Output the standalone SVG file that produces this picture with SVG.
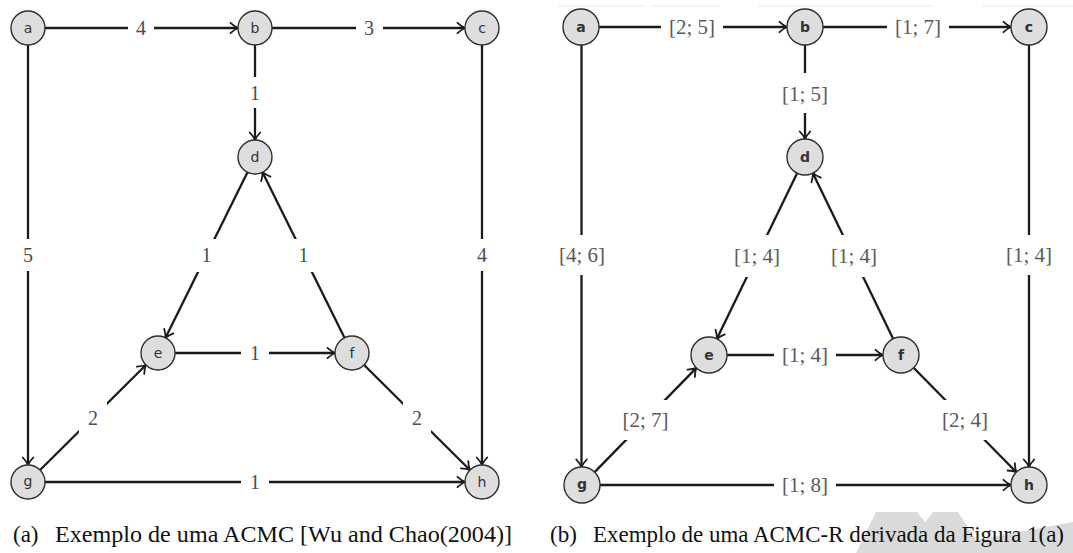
<svg xmlns="http://www.w3.org/2000/svg" width="1073" height="553" viewBox="0 0 1073 553">
<style>
.edge{stroke:#1a1a1a;stroke-width:2.3;fill:none;marker-end:url(#arr)}
.node circle{fill:#dedede;stroke:#2e2e2e;stroke-width:1.4}
.na{font-family:"DejaVu Sans",sans-serif;font-size:14px;fill:#333;text-anchor:middle}
.nb{font-family:"DejaVu Sans",sans-serif;font-size:14px;font-weight:bold;fill:#333;text-anchor:middle}
.lbl{font-family:"Liberation Serif",serif;font-size:20px;fill:#4d4d4d;text-anchor:middle}
.lbr{font-family:"Liberation Serif",serif;font-size:21px;fill:#5a5a5a;text-anchor:middle}
.bg{fill:#fff}
.cap{font-family:"Liberation Serif",serif;font-size:23px;fill:#111}
</style>
<defs>
<marker id="arr" viewBox="-10 -7 12 14" refX="0" refY="0" markerWidth="12" markerHeight="14" orient="auto" markerUnits="userSpaceOnUse">
<path d="M-7.5,-5.2 C-4,-2 -1.5,-0.6 0,0 C-1.5,0.6 -4,2 -7.5,5.2" fill="none" stroke="#1a1a1a" stroke-width="1.8" stroke-linecap="round"/>
</marker>
</defs>
<rect width="1073" height="553" fill="#fff"/>
<g stroke="#e8e8e8" stroke-width="1">
<line x1="558" y1="6" x2="645" y2="6"/>
<line x1="652" y1="6" x2="720" y2="6"/>
<line x1="758" y1="6" x2="932" y2="6"/>
<line x1="982" y1="6" x2="1073" y2="6"/>
</g>
<polygon points="856,553 876,512 917,512 925,522 933,512 958,512 976,540 1073,522 1073,553" fill="#dadada"/>

<g id="connectors">
<g id="e-ab-l"><line class="edge" x1="45" y1="28" x2="238" y2="28"/><rect class="bg" x="128" y="14" width="26" height="30"/><text class="lbl" x="141" y="35">4</text></g>
<g id="e-bc-l"><line class="edge" x1="272" y1="28" x2="465" y2="28"/><rect class="bg" x="356" y="14" width="27" height="30"/><text class="lbl" x="369" y="35">3</text></g>
<g id="e-bd-l"><line class="edge" x1="255" y1="45" x2="255" y2="140"/><rect class="bg" x="243" y="77" width="24" height="31"/><text class="lbl" x="255" y="100">1</text></g>
<g id="e-ag-l"><line class="edge" x1="28" y1="45" x2="28" y2="465"/><rect class="bg" x="16" y="239" width="24" height="32"/><text class="lbl" x="28" y="262">5</text></g>
<g id="e-ch-l"><line class="edge" x1="482" y1="45" x2="482" y2="465"/><rect class="bg" x="470" y="239" width="24" height="32"/><text class="lbl" x="482" y="262">4</text></g>
<g id="e-de-l"><line class="edge" x1="247.5" y1="172.2" x2="165.5" y2="337.8"/><rect class="bg" x="193" y="239" width="27" height="33"/><text class="lbl" x="206.5" y="262">1</text></g>
<g id="e-fd-l"><line class="edge" x1="344.5" y1="337.8" x2="262.5" y2="172.2"/><rect class="bg" x="290" y="239" width="27" height="33"/><text class="lbl" x="303.5" y="262">1</text></g>
<g id="e-ef-l"><line class="edge" x1="175" y1="353" x2="335" y2="353"/><rect class="bg" x="241" y="339" width="28" height="30"/><text class="lbl" x="255" y="360">1</text></g>
<g id="e-ge-l"><line class="edge" x1="40.1" y1="470" x2="145.9" y2="365"/><rect class="bg" x="79" y="402" width="28" height="31"/><text class="lbl" x="93" y="425">2</text></g>
<g id="e-fh-l"><line class="edge" x1="364.1" y1="365" x2="469.9" y2="470"/><rect class="bg" x="403" y="402" width="28" height="31"/><text class="lbl" x="417" y="425">2</text></g>
<g id="e-gh-l"><line class="edge" x1="45" y1="482" x2="465" y2="482"/><rect class="bg" x="241" y="468" width="28" height="30"/><text class="lbl" x="255" y="489">1</text></g>

<g id="e-ab-r"><line class="edge" x1="599" y1="27" x2="787" y2="27"/><rect class="bg" x="661" y="10" width="62" height="34"/><text class="lbr" x="692" y="34">[2; 5]</text></g>
<g id="e-bc-r"><line class="edge" x1="823" y1="27" x2="1011" y2="27"/><rect class="bg" x="887" y="10" width="62" height="34"/><text class="lbr" x="918" y="34">[1; 7]</text></g>
<g id="e-bd-r"><line class="edge" x1="805" y1="45" x2="805" y2="139"/><rect class="bg" x="774" y="73" width="62" height="40"/><text class="lbr" x="805" y="101">[1; 5]</text></g>
<g id="e-ag-r"><line class="edge" x1="581.5" y1="45" x2="581.5" y2="467"/><rect class="bg" x="551" y="235" width="62" height="40"/><text class="lbr" x="582" y="262">[4; 6]</text></g>
<g id="e-ch-r"><line class="edge" x1="1029" y1="45" x2="1029" y2="467"/><rect class="bg" x="998" y="235" width="62" height="40"/><text class="lbr" x="1029" y="262">[1; 4]</text></g>
<g id="e-de-r"><line class="edge" x1="797.1" y1="173.2" x2="716.9" y2="338.8"/><rect class="bg" x="726" y="235" width="62" height="42"/><text class="lbr" x="757" y="263">[1; 4]</text></g>
<g id="e-fd-r"><line class="edge" x1="893.1" y1="338.8" x2="812.9" y2="173.2"/><rect class="bg" x="823" y="235" width="62" height="42"/><text class="lbr" x="854" y="263">[1; 4]</text></g>
<g id="e-ef-r"><line class="edge" x1="727" y1="355" x2="883" y2="355"/><rect class="bg" x="774" y="338" width="62" height="34"/><text class="lbr" x="805" y="362">[1; 4]</text></g>
<g id="e-ge-r"><line class="edge" x1="594.6" y1="472.1" x2="696.4" y2="367.9"/><rect class="bg" x="614" y="400" width="63" height="40"/><text class="lbr" x="645.5" y="427">[2; 7]</text></g>
<g id="e-fh-r"><line class="edge" x1="913.6" y1="367.8" x2="1016.4" y2="472.2"/><rect class="bg" x="934" y="400" width="63" height="40"/><text class="lbr" x="965" y="427">[2; 4]</text></g>
<g id="e-gh-r"><line class="edge" x1="600" y1="485" x2="1011" y2="485"/><rect class="bg" x="774" y="468" width="62" height="34"/><text class="lbr" x="805" y="492">[1; 8]</text></g>
</g>

<g id="nodes-left">
<g id="a-l" class="node"><circle cx="28" cy="28" r="17"/><text class="na" x="28" y="33">a</text></g>
<g id="b-l" class="node"><circle cx="255" cy="28" r="17"/><text class="na" x="255" y="33">b</text></g>
<g id="c-l" class="node"><circle cx="482" cy="28" r="17"/><text class="na" x="482" y="33">c</text></g>
<g id="d-l" class="node"><circle cx="255" cy="157" r="17"/><text class="na" x="255" y="162">d</text></g>
<g id="e-l" class="node"><circle cx="158" cy="353" r="17"/><text class="na" x="158" y="358">e</text></g>
<g id="f-l" class="node"><circle cx="352" cy="353" r="17"/><text class="na" x="352" y="358">f</text></g>
<g id="g-l" class="node"><circle cx="28" cy="482" r="17"/><text class="na" x="28" y="486">g</text></g>
<g id="h-l" class="node"><circle cx="482" cy="482" r="17"/><text class="na" x="482" y="487">h</text></g>
</g>
<g id="nodes-right">
<g id="a-r" class="node"><circle cx="581" cy="27" r="18"/><text class="nb" x="581" y="32">a</text></g>
<g id="b-r" class="node"><circle cx="805" cy="27" r="18"/><text class="nb" x="805" y="32">b</text></g>
<g id="c-r" class="node"><circle cx="1029" cy="27" r="18"/><text class="nb" x="1029" y="32">c</text></g>
<g id="d-r" class="node"><circle cx="805" cy="157" r="18"/><text class="nb" x="805" y="162">d</text></g>
<g id="e-r" class="node"><circle cx="709" cy="355" r="18"/><text class="nb" x="709" y="360">e</text></g>
<g id="f-r" class="node"><circle cx="901" cy="355" r="18"/><text class="nb" x="901" y="360">f</text></g>
<g id="g-r" class="node"><circle cx="582" cy="485" r="18"/><text class="nb" x="582" y="489">g</text></g>
<g id="h-r" class="node"><circle cx="1029" cy="485" r="18"/><text class="nb" x="1029" y="490">h</text></g>
</g>

<g id="captions">
<text class="cap" x="13" y="542">(a)</text>
<text class="cap" x="55" y="542" textLength="457" lengthAdjust="spacingAndGlyphs">Exemplo de uma ACMC [Wu and Chao(2004)]</text>
<text class="cap" x="550" y="542">(b)</text>
<text class="cap" x="593" y="542" textLength="471" lengthAdjust="spacingAndGlyphs">Exemplo de uma ACMC-R derivada da Figura 1(a)</text>
</g>
</svg>
